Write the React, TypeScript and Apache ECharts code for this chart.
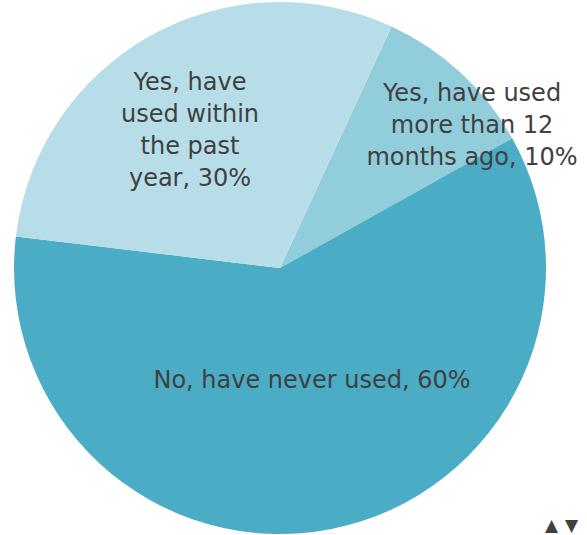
import React, { useEffect, useRef } from "react";
import * as echarts from "echarts";

const categories = [
  "Yes, have used\nmore than 12\nmonths ago",
  "No, have never used",
  "Yes, have\nused within\nthe past\nyear",
];
const values = [10, 60, 30];
const colors = ["#92CDDC", "#4BACC6", "#B7DDE8"];
const labelPos = [
  [472, 125],
  [312, 380],
  [190, 130],
];

export default function App() {
  const ref = useRef<HTMLDivElement>(null);
  useEffect(() => {
    if (!ref.current) return;
    const chart = echarts.init(ref.current, undefined, { renderer: "svg" });
    chart.setOption({
      animation: false,
      backgroundColor: "#ffffff",
      series: [
        {
          type: "pie",
          center: [280, 268],
          radius: 266,
          startAngle: 65.2,
          clockwise: true,
          data: categories.map((name, i) => ({
            name,
            value: values[i],
            itemStyle: { color: colors[i] },
          })),
          label: {
            show: true,
            position: "inside",
            formatter: (p: any) => p.name + ", " + p.value + "%",
            color: "#404040",
            fontFamily: "DejaVu Sans",
            fontSize: 24,
            lineHeight: 32,
            align: "center",
          },
          labelLine: { show: false },
          labelLayout: (p: any) => ({
            x: labelPos[p.dataIndex][0],
            y: labelPos[p.dataIndex][1],
          }),
          emphasis: { disabled: true },
        },
      ],
      graphic: [
        {
          type: "text",
          left: 545,
          top: 516,
          style: { text: "▲", fontSize: 17, fill: "#404040", fontFamily: "DejaVu Sans" },
        },
        {
          type: "text",
          left: 565,
          top: 516,
          style: { text: "▼", fontSize: 17, fill: "#404040", fontFamily: "DejaVu Sans" },
        },
      ],
    });
    return () => chart.dispose();
  }, []);
  return (
    <div
      ref={ref}
      style={{ position: "fixed", left: 0, top: 0, width: 587, height: 535 }}
    />
  );
}
